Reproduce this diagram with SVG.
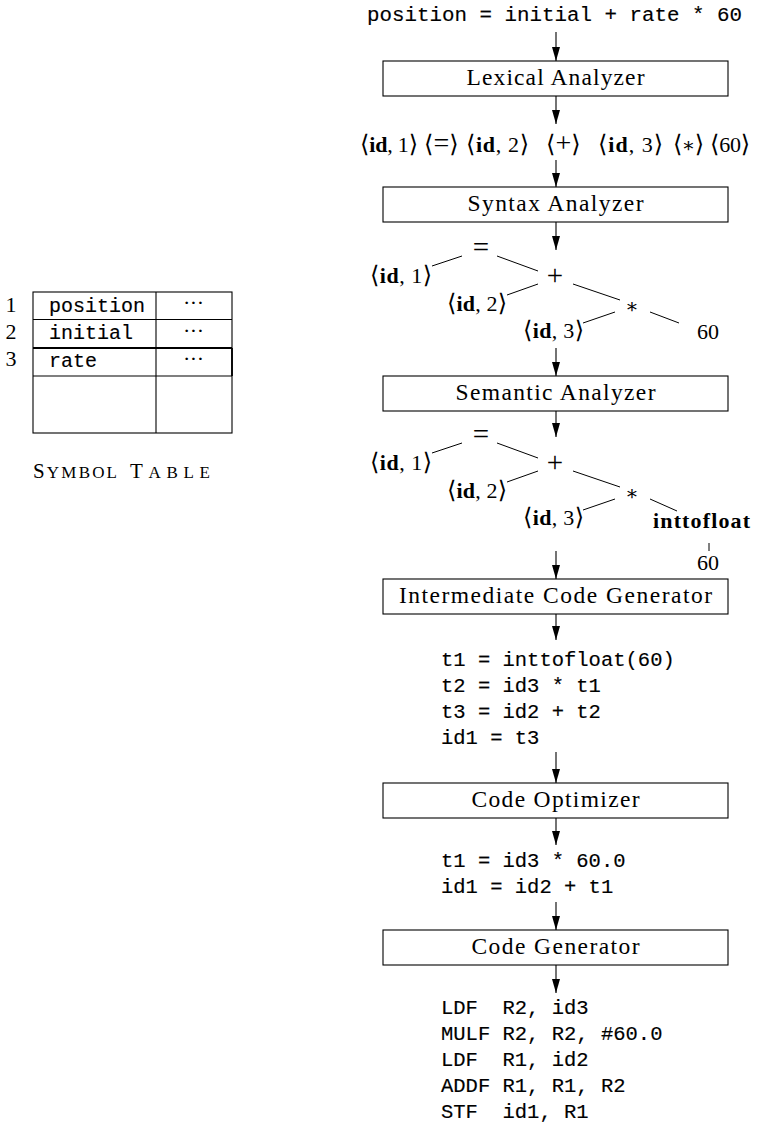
<svg xmlns="http://www.w3.org/2000/svg" width="769" height="1132" viewBox="0 0 769 1132">
<style>
.bg{fill:#fff}
.box{fill:#fff;stroke:#000;stroke-width:1.1}
.lbl{font-family:"Liberation Serif","DejaVu Serif",serif;font-size:23.5px;fill:#000;text-anchor:middle}
.m{font-family:"Liberation Serif","DejaVu Serif","DejaVu Sans",serif;font-size:22px;fill:#000}
.b{font-weight:bold}
.br{font-family:"DejaVu Serif","DejaVu Sans",serif;font-weight:normal;font-size:24px}
.op{font-size:29px}
.opt{font-size:28px}
.tt{font-family:"Liberation Mono","DejaVu Sans Mono",monospace;font-size:20.5px;fill:#000;stroke:#000;stroke-width:0.15}
.ttt{font-family:"Liberation Mono","DejaVu Sans Mono",monospace;font-size:20px;fill:#000;stroke:#000;stroke-width:0.15}
.arr{stroke:#000;stroke-width:1.1;fill:none}
.edge{stroke:#000;stroke-width:1;fill:none}
.grid{stroke:#000;stroke-width:1.1;fill:none}
</style>
<defs>
<marker id="ah" viewBox="0 0 14 8" refX="14" refY="4" markerWidth="14" markerHeight="8" markerUnits="userSpaceOnUse" orient="auto">
<path d="M0,0 L14,4 L0,8 Z" fill="#000"/>
</marker>
</defs>
<rect class="bg" x="0" y="0" width="769" height="1132"/>

<g id="connectors">
<line class="arr" x1="556" y1="32" x2="556" y2="61" marker-end="url(#ah)"/>
<line class="arr" x1="556" y1="96" x2="556" y2="124" marker-end="url(#ah)"/>
<line class="arr" x1="556" y1="160" x2="556" y2="187" marker-end="url(#ah)"/>
<line class="arr" x1="556" y1="222" x2="556" y2="250" marker-end="url(#ah)"/>
<line class="arr" x1="556" y1="348" x2="556" y2="376" marker-end="url(#ah)"/>
<line class="arr" x1="556" y1="411" x2="556" y2="437" marker-end="url(#ah)"/>
<line class="arr" x1="556" y1="551" x2="556" y2="579" marker-end="url(#ah)"/>
<line class="arr" x1="556" y1="614" x2="556" y2="640" marker-end="url(#ah)"/>
<line class="arr" x1="556" y1="752" x2="556" y2="783" marker-end="url(#ah)"/>
<line class="arr" x1="556" y1="818" x2="556" y2="845" marker-end="url(#ah)"/>
<line class="arr" x1="556" y1="902" x2="556" y2="930" marker-end="url(#ah)"/>
<line class="arr" x1="556" y1="965" x2="556" y2="993" marker-end="url(#ah)"/>
<g id="tree1-edges">
<line class="edge" x1="432" y1="266" x2="462" y2="256"/>
<line class="edge" x1="497" y1="256" x2="538" y2="271"/>
<line class="edge" x1="507" y1="295" x2="538" y2="284"/>
<line class="edge" x1="573" y1="284" x2="620" y2="300"/>
<line class="edge" x1="583" y1="323" x2="615" y2="312"/>
<line class="edge" x1="650" y1="312" x2="679" y2="323"/>
</g>
<g id="tree2-edges">
<line class="edge" x1="432" y1="453" x2="462" y2="443"/>
<line class="edge" x1="497" y1="443" x2="538" y2="458"/>
<line class="edge" x1="507" y1="482" x2="538" y2="471"/>
<line class="edge" x1="573" y1="471" x2="620" y2="487"/>
<line class="edge" x1="583" y1="510" x2="615" y2="499"/>
<line class="edge" x1="650" y1="499" x2="677" y2="511"/>
<line class="edge" x1="709" y1="543" x2="709" y2="551"/>
</g>
</g>

<g id="source">
<text class="tt" x="367" y="21" textLength="375" lengthAdjust="spacingAndGlyphs">position = initial + rate * 60</text>
</g>

<g id="lexical">
<rect class="box" x="383" y="61" width="345" height="35"/>
<text class="lbl" x="555.5" y="85" textLength="178">Lexical Analyzer</text>
</g>

<g id="tokens">
<text class="m" x="360" y="152" textLength="58"><tspan class="br">⟨</tspan><tspan class="b">id</tspan>, 1<tspan class="br">⟩</tspan></text>
<text class="m" x="424" y="152"><tspan class="br">⟨</tspan><tspan class="opt">=</tspan><tspan class="br">⟩</tspan></text>
<text class="m" x="466" y="152" textLength="63"><tspan class="br">⟨</tspan><tspan class="b">id</tspan>, 2<tspan class="br">⟩</tspan></text>
<text class="m" x="546" y="152"><tspan class="br">⟨</tspan><tspan class="opt">+</tspan><tspan class="br">⟩</tspan></text>
<text class="m" x="598" y="152" textLength="65"><tspan class="br">⟨</tspan><tspan class="b">id</tspan>, 3<tspan class="br">⟩</tspan></text>
<text class="m" x="673" y="152" textLength="31"><tspan class="br">⟨</tspan><tspan class="br" style="font-size:20px">∗</tspan><tspan class="br">⟩</tspan></text>
<text class="m" x="710" y="152" textLength="40"><tspan class="br">⟨</tspan>60<tspan class="br">⟩</tspan></text>
</g>

<g id="syntax">
<rect class="box" x="383" y="187" width="345" height="35"/>
<text class="lbl" x="555.5" y="211" textLength="176">Syntax Analyzer</text>
</g>

<g id="tree1">
<text class="m op" x="481" y="257" text-anchor="middle">=</text>
<text class="m op" x="555" y="285" text-anchor="middle">+</text>
<text class="m" x="632" y="313" text-anchor="middle"><tspan class="br" style="font-size:20px">∗</tspan></text>
<text class="m" x="708" y="339" text-anchor="middle">60</text>
<text class="m" x="370" y="283" textLength="62"><tspan class="br">⟨</tspan><tspan class="b">id</tspan>, 1<tspan class="br">⟩</tspan></text>
<text class="m" x="447" y="311" textLength="60"><tspan class="br">⟨</tspan><tspan class="b">id</tspan>, 2<tspan class="br">⟩</tspan></text>
<text class="m" x="523" y="338" textLength="61"><tspan class="br">⟨</tspan><tspan class="b">id</tspan>, 3<tspan class="br">⟩</tspan></text>
</g>

<g id="semantic">
<rect class="box" x="383" y="376" width="345" height="35"/>
<text class="lbl" x="555.5" y="400" textLength="200">Semantic Analyzer</text>
</g>

<g id="tree2">
<text class="m op" x="481" y="444" text-anchor="middle">=</text>
<text class="m op" x="555" y="472" text-anchor="middle">+</text>
<text class="m" x="632" y="500" text-anchor="middle"><tspan class="br" style="font-size:20px">∗</tspan></text>
<text class="m" x="370" y="470" textLength="62"><tspan class="br">⟨</tspan><tspan class="b">id</tspan>, 1<tspan class="br">⟩</tspan></text>
<text class="m" x="447" y="498" textLength="60"><tspan class="br">⟨</tspan><tspan class="b">id</tspan>, 2<tspan class="br">⟩</tspan></text>
<text class="m" x="523" y="525" textLength="61"><tspan class="br">⟨</tspan><tspan class="b">id</tspan>, 3<tspan class="br">⟩</tspan></text>
<text class="m b" x="653" y="528" textLength="97">inttofloat</text>
<text class="m" x="708" y="570" text-anchor="middle">60</text>
</g>

<g id="intermediate">
<rect class="box" x="383" y="579" width="345" height="35"/>
<text class="lbl" x="555.5" y="603" textLength="313">Intermediate Code Generator</text>
</g>

<g id="ir-code">
<text class="tt" x="441" y="666">t1 = inttofloat(60)</text>
<text class="tt" x="441" y="692">t2 = id3 * t1</text>
<text class="tt" x="441" y="718">t3 = id2 + t2</text>
<text class="tt" x="441" y="744">id1 = t3</text>
</g>

<g id="optimizer">
<rect class="box" x="383" y="783" width="345" height="35"/>
<text class="lbl" x="555.5" y="807" textLength="168">Code Optimizer</text>
</g>

<g id="opt-code">
<text class="tt" x="441" y="867">t1 = id3 * 60.0</text>
<text class="tt" x="441" y="893">id1 = id2 + t1</text>
</g>

<g id="codegen">
<rect class="box" x="383" y="930" width="345" height="35"/>
<text class="lbl" x="555.5" y="954" textLength="168">Code Generator</text>
</g>

<g id="target-code">
<text class="tt" x="441" y="1014" xml:space="preserve">LDF  R2, id3</text>
<text class="tt" x="441" y="1040">MULF R2, R2, #60.0</text>
<text class="tt" x="441" y="1066" xml:space="preserve">LDF  R1, id2</text>
<text class="tt" x="441" y="1092">ADDF R1, R1, R2</text>
<text class="tt" x="441" y="1118" xml:space="preserve">STF  id1, R1</text>
</g>

<g id="symbol-table">
<rect class="grid" x="33" y="292" width="199" height="141"/>
<line class="grid" x1="156" y1="292" x2="156" y2="433"/>
<line class="grid" x1="33" y1="319.5" x2="232" y2="319.5"/>
<line class="grid" x1="33" y1="348" x2="232" y2="348" style="stroke-width:1.8"/>
<line class="grid" x1="33" y1="376" x2="232" y2="376"/>
<line class="grid" x1="232" y1="348" x2="232" y2="376" style="stroke-width:1.8"/>
<text class="m" x="11" y="312" text-anchor="middle">1</text>
<text class="m" x="11" y="339" text-anchor="middle">2</text>
<text class="m" x="11" y="366" text-anchor="middle">3</text>
<text class="ttt" x="49" y="312">position</text>
<text class="ttt" x="49" y="339">initial</text>
<text class="ttt" x="49" y="367">rate</text>
<text class="m" x="183" y="310" font-size="16" textLength="21">· · ·</text>
<text class="m" x="183" y="338" font-size="16" textLength="21">· · ·</text>
<text class="m" x="183" y="366" font-size="16" textLength="21">· · ·</text>
<text class="m" x="33" y="478" textLength="84"><tspan font-size="21">S</tspan><tspan font-size="17">YMBOL</tspan></text>
<text class="m" x="130" y="478" textLength="80"><tspan font-size="21">T</tspan><tspan font-size="17">ABLE</tspan></text>
</g>
</svg>
